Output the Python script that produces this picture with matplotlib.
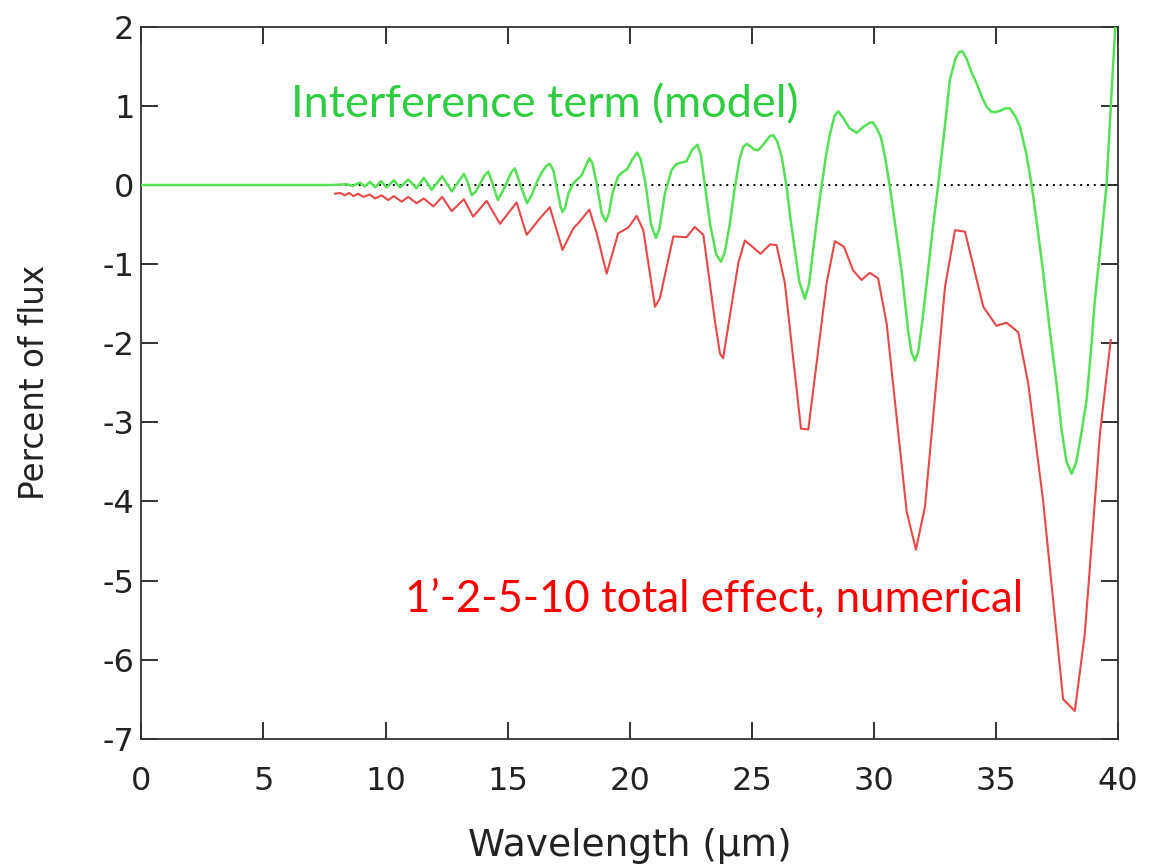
import matplotlib
matplotlib.use("Agg")
import matplotlib.pyplot as plt

plt.rcParams["axes.unicode_minus"] = False

# interference term (model): wavelength (um), percent of flux
green_wl = [0.0, 7.8, 8.4, 8.65, 8.95, 9.15, 9.36, 9.58, 9.81, 10.04, 10.34, 10.59,
            10.93, 11.27, 11.57, 11.89, 12.32, 12.71, 13.21, 13.35, 13.53, 13.7,
            13.85, 14.05, 14.21, 14.35, 14.6, 14.8, 14.95, 15.15, 15.3, 15.5,
            15.8, 16.0, 16.2, 16.4, 16.58, 16.73, 16.88, 17.05, 17.17, 17.25,
            17.35, 17.5, 17.69, 17.85, 18.03, 18.2, 18.35, 18.47, 18.65, 18.85,
            19.02, 19.15, 19.3, 19.53, 19.7, 19.9, 20.1, 20.31, 20.45, 20.65,
            20.88, 21.08, 21.22, 21.45, 21.72, 21.9, 22.06, 22.33, 22.55, 22.78,
            22.92, 23.06, 23.3, 23.55, 23.74, 23.9, 24.1, 24.3, 24.5, 24.65,
            24.79, 24.95, 25.1, 25.27, 25.5, 25.75, 25.88, 26.05, 26.23, 26.43,
            26.6, 26.77, 26.95, 27.18, 27.35, 27.52, 27.7, 27.86, 28.05, 28.21,
            28.4, 28.55, 28.75, 29.0, 29.3, 29.6, 29.85, 29.98, 30.15, 30.3,
            30.46, 30.66, 30.9, 31.14, 31.41, 31.55, 31.69, 31.83, 32.0, 32.17,
            32.4, 32.64, 32.9, 33.12, 33.35, 33.5, 33.64, 33.8, 34.0, 34.21,
            34.45, 34.63, 34.8, 34.96, 35.2, 35.4, 35.58, 35.8, 35.99, 36.25,
            36.47, 36.7, 36.94, 37.2, 37.49, 37.7, 37.9, 38.11, 38.3, 38.5,
            38.72, 38.9, 39.06, 39.3, 39.54, 39.75, 39.9]
green_val = [0.0, 0.0, 0.01, -0.01, 0.03, -0.02, 0.04, -0.03, 0.05, -0.03, 0.06, -0.03,
             0.07, -0.04, 0.09, -0.06, 0.11, -0.08, 0.14, 0.05, -0.13, -0.08,
             0.0, 0.12, 0.17, 0.05, -0.19, -0.08, 0.02, 0.16, 0.21, 0.02,
             -0.23, -0.12, 0.04, 0.16, 0.24, 0.27, 0.18, -0.08, -0.27, -0.34,
             -0.29, -0.1, 0.02, 0.07, 0.12, 0.24, 0.34, 0.28, 0.02, -0.35,
             -0.46, -0.36, -0.1, 0.11, 0.16, 0.2, 0.32, 0.41, 0.33, 0.02,
             -0.5, -0.67, -0.55, -0.1, 0.19, 0.26, 0.28, 0.3, 0.44, 0.51,
             0.38, 0.05, -0.5, -0.88, -0.97, -0.85, -0.5, -0.05, 0.32, 0.48,
             0.52, 0.49, 0.45, 0.44, 0.52, 0.62, 0.63, 0.55, 0.36, -0.02,
             -0.45, -0.82, -1.22, -1.44, -1.25, -0.82, -0.38, -0.02, 0.38, 0.65,
             0.88, 0.93, 0.85, 0.72, 0.66, 0.74, 0.79, 0.79, 0.7, 0.6,
             0.36, -0.02, -0.55, -1.08, -1.84, -2.12, -2.22, -2.1, -1.7, -1.24,
             -0.6, 0.0, 0.7, 1.33, 1.6, 1.68, 1.69, 1.6, 1.43, 1.29,
             1.1, 0.99, 0.93, 0.92, 0.94, 0.97, 0.97, 0.87, 0.74, 0.4,
             0.0, -0.52, -1.1, -1.8, -2.51, -3.1, -3.5, -3.65, -3.5, -3.15,
             -2.72, -2.1, -1.46, -0.75, 0.0, 1.2, 2.0]

# 1'-2-5-10 total effect, numerical
red_wl = [7.93, 8.13, 8.34, 8.51, 8.68, 8.88, 9.09, 9.36, 9.57, 9.84, 10.11, 10.34,
          10.66, 10.93, 11.27, 11.57, 11.96, 12.32, 12.71, 13.21, 13.59, 14.14,
          14.69, 15.37, 15.78, 16.33, 16.73, 17.25, 17.69, 17.96, 18.35, 18.65,
          19.06, 19.53, 19.94, 20.29, 20.56, 21.04, 21.24, 21.79, 22.33, 22.67,
          23.02, 23.49, 23.70, 23.83, 24.45, 24.72, 25.37, 25.75, 26.02, 26.36,
          27.02, 27.32, 28.07, 28.41, 28.78, 29.16, 29.5, 29.84, 30.18, 30.53,
          31.35, 31.73, 32.1, 32.92, 33.33, 33.74, 34.49, 35.03, 35.44, 35.92,
          36.33, 36.94, 37.76, 38.24, 38.65, 39.27, 39.71]
red_val = [-0.11, -0.10, -0.13, -0.10, -0.14, -0.11, -0.15, -0.12, -0.17, -0.13, -0.19, -0.14,
           -0.21, -0.15, -0.23, -0.17, -0.27, -0.15, -0.33, -0.18, -0.40, -0.20,
           -0.49, -0.22, -0.63, -0.42, -0.28, -0.82, -0.55, -0.46, -0.31, -0.61,
           -1.12, -0.61, -0.54, -0.39, -0.57, -1.54, -1.43, -0.65, -0.66, -0.53,
           -0.63, -1.71, -2.13, -2.19, -0.99, -0.70, -0.87, -0.75, -0.76, -1.24,
           -3.08, -3.09, -1.24, -0.71, -0.78, -1.08, -1.20, -1.11, -1.18, -1.75,
           -4.13, -4.61, -4.07, -1.29, -0.57, -0.59, -1.54, -1.78, -1.74, -1.86,
           -2.51, -3.99, -6.50, -6.65, -5.67, -3.14, -1.96]

xticks = [0, 5, 10, 15, 20, 25, 30, 35, 40]
yticks = [2, 1, 0, -1, -2, -3, -4, -5, -6, -7]

fig = plt.figure(figsize=(11.5, 8.66), dpi=100)
ax = fig.add_axes([0.123, 0.147, 0.849, 0.822])

ax.axhline(0, color="black", lw=1.4, ls=(0, (1, 2.5)), zorder=1)
ax.plot(green_wl, green_val, color="#55e055", lw=1.8, zorder=3)
ax.plot(red_wl, red_val, color="#e84848", lw=1.5, zorder=2)

ax.set_xlim(0, 40)
ax.set_ylim(-7, 2)
ax.set_xticks(xticks)
ax.set_yticks(yticks)
ax.tick_params(direction="in", length=12, width=1.3, top=True, right=True,
               labelsize=23, colors="#222222")
ax.tick_params(axis="x", pad=20)
ax.tick_params(axis="y", pad=5)
for s in ax.spines.values():
    s.set_linewidth(1.3)
    s.set_color("#333333")

ax.set_xlabel("Wavelength (µm)", fontsize=27, labelpad=22, color="#222222")
ax.set_ylabel("Percent of flux", fontsize=23.5, labelpad=37, color="#222222")

ax.text(291 / 1150, 1 - 117 / 866, "Interference term (model)", transform=fig.transFigure,
        color="#2ecc40", fontsize=32.5, family="Lato", va="baseline", ha="left")
ax.text(405 / 1150, 1 - 612 / 866, "1’-2-5-10 total effect, numerical",
        transform=fig.transFigure, color="#ff0000", fontsize=31.5, family="Lato",
        va="baseline", ha="left")

plt.savefig("out.png", dpi=100)
